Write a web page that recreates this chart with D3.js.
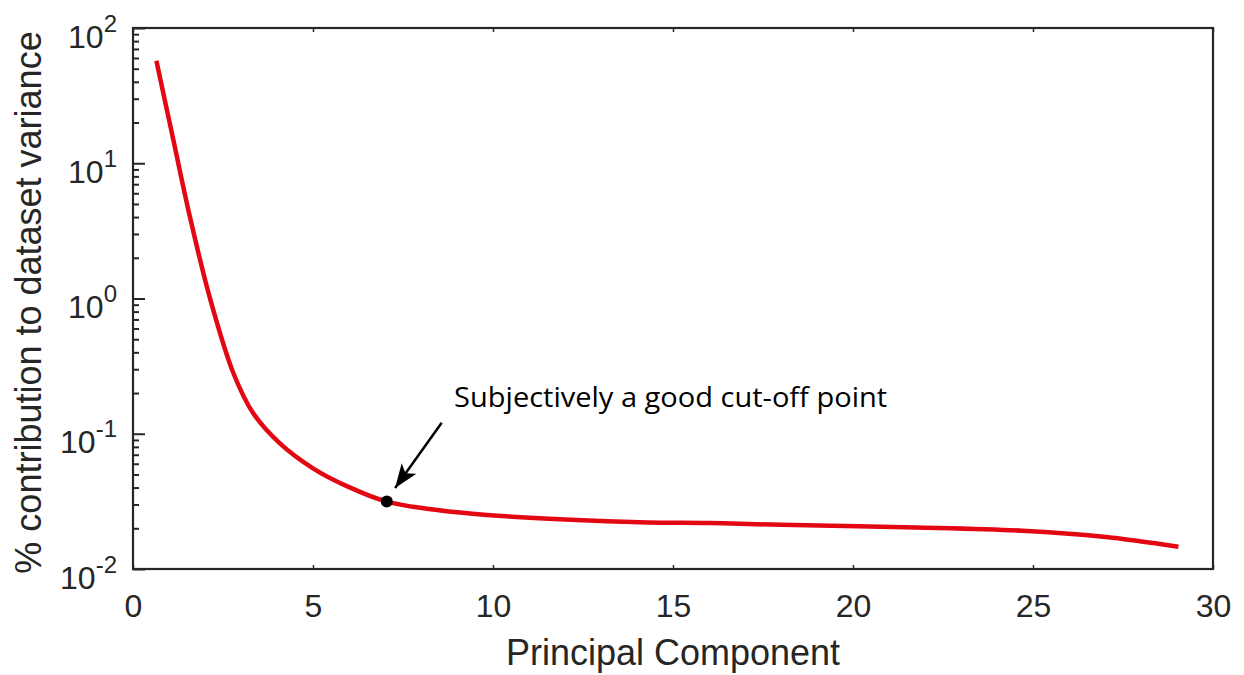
<!DOCTYPE html>
<html>
<head>
<meta charset="utf-8">
<script src="https://cdn.jsdelivr.net/npm/d3@7"></script>
<style>
  html, body { margin: 0; padding: 0; background: #fff; }
  svg { display: block; }
</style>
</head>
<body>
<div id="chart"></div>
<script>
// ===== DATA =====
const component = [0.65, 1.12, 1.58, 2.14, 2.79, 3.34, 4.08, 5.01, 5.94, 7.05, 8.5, 9.83, 12.0, 14.3, 16.0, 18.0, 21.75, 24.7, 26.96, 29.04];
const variancePct = [57.3, 14.9, 4.03, 1.0, 0.280, 0.1416, 0.0849, 0.0553, 0.041, 0.0315, 0.0272, 0.0251, 0.0232, 0.0221, 0.0219, 0.0212, 0.0203, 0.0192, 0.0173, 0.0146];
const cutoffIndex = 9;

const xTicks = [0, 5, 10, 15, 20, 25, 30];
const yExponents = [-2, -1, 0, 1, 2];

const annotationText = "Subjectively a good cut-off point";
// annotation anchor points, in data units
const arrowFrom = [8.575, 0.1208];
const arrowTo = [7.28, 0.0397];
const labelAt = [8.92, 0.158];

// ===== LAYOUT =====
const width = 1244, height = 675;
const margin = { top: 28, right: 31, bottom: 106, left: 133 };
const axisColor = "#262626";
const lineColor = "#e30613";

const svg = d3.select("#chart").append("svg")
  .attr("width", width)
  .attr("height", height);

svg.append("rect").attr("width", width).attr("height", height).attr("fill", "#fff");

const x = d3.scaleLinear()
  .domain([0, 30])
  .range([margin.left, width - margin.right]);

const y = d3.scaleLog()
  .domain([1e-2, 1e2])
  .range([height - margin.bottom, margin.top]);

const plotW = x.range()[1] - x.range()[0];
const plotH = y.range()[0] - y.range()[1];

// ===== AXES =====
const tickFont = "'Liberation Sans', Arial, Helvetica, sans-serif";

// bottom ticks (tiny, inward) + labels
svg.append("g")
  .attr("transform", `translate(0,${y.range()[0]})`)
  .call(d3.axisBottom(x).tickValues(xTicks).tickSizeInner(-4).tickSizeOuter(0).tickPadding(25))
  .call(g => g.select(".domain").remove())
  .call(g => g.selectAll(".tick line").attr("stroke", axisColor).attr("stroke-width", 1.5))
  .call(g => g.selectAll(".tick text")
    .attr("fill", axisColor)
    .style("font-family", tickFont)
    .style("font-size", "32px"));

// top ticks
svg.append("g")
  .attr("transform", `translate(0,${y.range()[1]})`)
  .call(d3.axisTop(x).tickValues(xTicks).tickSizeInner(-4).tickSizeOuter(0).tickFormat(""))
  .call(g => g.select(".domain").remove())
  .call(g => g.selectAll(".tick line").attr("stroke", axisColor).attr("stroke-width", 1.5));

// left axis: minor ticks
const minorTicks = [];
yExponents.slice(0, -1).forEach(e => {
  for (let m = 2; m <= 9; m++) minorTicks.push(m * Math.pow(10, e));
});

svg.append("g")
  .attr("transform", `translate(${x.range()[0]},0)`)
  .call(d3.axisLeft(y).tickValues(minorTicks).tickSizeInner(-6).tickSizeOuter(0).tickFormat(""))
  .call(g => g.select(".domain").remove())
  .call(g => g.selectAll(".tick line").attr("stroke", axisColor).attr("stroke-width", 2));

// left axis: major ticks with 10^n labels
const yMajor = svg.append("g")
  .attr("transform", `translate(${x.range()[0]},0)`)
  .call(d3.axisLeft(y).tickValues(yExponents.map(e => Math.pow(10, e))).tickSizeInner(-12).tickSizeOuter(0).tickFormat(""))
  .call(g => g.select(".domain").remove())
  .call(g => g.selectAll(".tick line").attr("stroke", axisColor).attr("stroke-width", 2));

yMajor.selectAll(".tick")
  .append("text")
  .attr("x", -16)
  .attr("dy", 19)
  .attr("text-anchor", "end")
  .attr("fill", axisColor)
  .style("font-family", tickFont)
  .style("font-size", "32px")
  .each(function(d) {
    const t = d3.select(this);
    const e = Math.round(Math.log10(d));
    t.append("tspan").text("10");
    t.append("tspan")
      .attr("dy", -16)
      .style("font-size", "24px")
      .text(String(e));
  });

// box
svg.append("rect")
  .attr("x", x.range()[0])
  .attr("y", y.range()[1])
  .attr("width", plotW)
  .attr("height", plotH)
  .attr("fill", "none")
  .attr("stroke", axisColor)
  .attr("stroke-width", 2.2);

// axis titles
svg.append("text")
  .attr("x", x(15))
  .attr("y", 665)
  .attr("text-anchor", "middle")
  .attr("fill", axisColor)
  .style("font-family", tickFont)
  .style("font-size", "36px")
  .text("Principal Component");

svg.append("text")
  .attr("transform", `translate(41,${(y.range()[0] + y.range()[1]) / 2 + 4}) rotate(-90)`)
  .attr("text-anchor", "middle")
  .attr("fill", axisColor)
  .style("font-family", tickFont)
  .style("font-size", "36px")
  .text("% contribution to dataset variance");

// ===== CURVE =====
const points = component.map((c, i) => ({ c, v: variancePct[i] }));

const line = d3.line()
  .x(d => x(d.c))
  .y(d => y(d.v))
  .curve(d3.curveCatmullRom.alpha(0.5));

svg.append("path")
  .datum(points)
  .attr("d", line)
  .attr("fill", "none")
  .attr("stroke", lineColor)
  .attr("stroke-width", 4.5);

// cut-off marker
svg.append("circle")
  .attr("cx", x(component[cutoffIndex]))
  .attr("cy", y(variancePct[cutoffIndex]))
  .attr("r", 6)
  .attr("fill", "#000");

// ===== ANNOTATION =====
svg.append("defs").append("marker")
  .attr("id", "arrowhead")
  .attr("viewBox", "0 0 24 18")
  .attr("refX", 24)
  .attr("refY", 9)
  .attr("markerWidth", 24)
  .attr("markerHeight", 18)
  .attr("markerUnits", "userSpaceOnUse")
  .attr("orient", "auto")
  .append("path")
  .attr("d", "M0,0 L24,9 L0,18 L6,9 Z")
  .attr("fill", "#000");

svg.append("line")
  .attr("x1", x(arrowFrom[0]))
  .attr("y1", y(arrowFrom[1]))
  .attr("x2", x(arrowTo[0]))
  .attr("y2", y(arrowTo[1]))
  .attr("stroke", "#000")
  .attr("stroke-width", 2.5)
  .attr("marker-end", "url(#arrowhead)");

svg.append("text")
  .attr("x", x(labelAt[0]))
  .attr("y", y(labelAt[1]))
  .attr("fill", "#000")
  .attr("textLength", 433)
  .attr("lengthAdjust", "spacingAndGlyphs")
  .style("font-family", "'Open Sans', 'Noto Sans', sans-serif")
  .style("font-size", "27px")
  .text(annotationText);
</script>
</body>
</html>
